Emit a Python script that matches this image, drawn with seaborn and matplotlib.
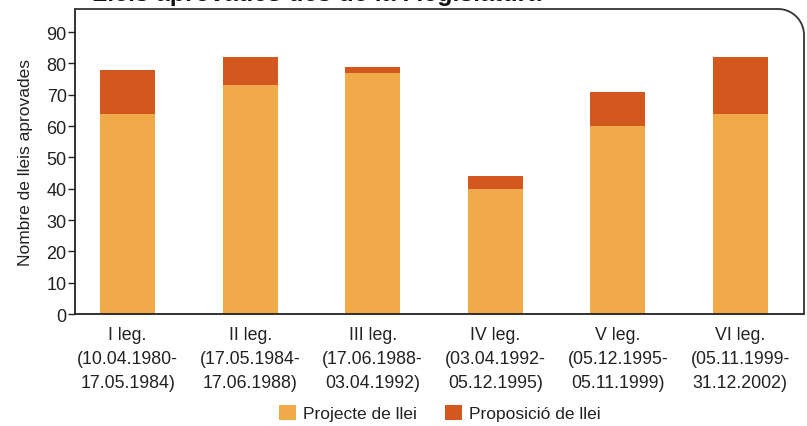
import numpy as np
import pandas as pd
import matplotlib
matplotlib.use("Agg")
import matplotlib.pyplot as plt
from matplotlib.patches import Patch
from matplotlib.lines import Line2D
import seaborn as sns

# Legislatures and number of laws approved by type
legislatures = [
    "I leg.\n(10.04.1980-\n17.05.1984)",
    "II leg.\n(17.05.1984-\n17.06.1988)",
    "III leg.\n(17.06.1988-\n03.04.1992)",
    "IV leg.\n(03.04.1992-\n05.12.1995)",
    "V leg.\n(05.12.1995-\n05.11.1999)",
    "VI leg.\n(05.11.1999-\n31.12.2002)",
]
projecte = [64, 73, 77, 40, 60, 64]
proposicio = [14, 9, 2, 4, 11, 18]
series_names = ["Projecte de llei", "Proposició de llei"]
y_ticks = [0, 10, 20, 30, 40, 50, 60, 70, 80, 90]
title = "Lleis aprovades des de la I legislatura"
y_label = "Nombre de lleis aprovades"

df = pd.DataFrame({
    "leg": legislatures,
    "projecte": projecte,
    "proposicio": proposicio,
})
df["total"] = df["projecte"] + df["proposicio"]

sns.set_theme(style="white")
plt.rcParams["font.family"] = ["Liberation Sans", "DejaVu Sans"]

W, H = 807, 427
fig = plt.figure(figsize=(W / 100, H / 100), dpi=100)
L, R, T, B = 75, 804, 10, 315
ax = fig.add_axes([L / W, 1 - B / H, (R - L) / W, (B - T) / H])

light = "#F1AA4A"
dark = "#D25820"

sns.barplot(data=df, x="leg", y="total", color=dark, width=0.45,
            saturation=1, ax=ax, edgecolor="none")
sns.barplot(data=df, x="leg", y="projecte", color=light, width=0.45,
            saturation=1, ax=ax, edgecolor="none")

ax.set_xlim(-0.43, 5.52)
ax.set_ylim(0, 97.4)
ax.set_yticks(y_ticks)
ax.set_yticklabels([str(v) for v in y_ticks], fontsize=13, color="#222222")
ax.tick_params(axis="y", which="major", left=True, length=5, width=1,
               color="#222222", pad=1)
ax.tick_params(axis="x", bottom=False, pad=3)
for lab in ax.get_xticklabels():
    lab.set_fontsize(12.8)
    lab.set_linespacing(1.5)
    lab.set_color("#222222")
ax.set_xlabel("")
ax.set_ylabel(y_label, fontsize=12.5, color="#222222", labelpad=10)

for side in ["top", "right"]:
    ax.spines[side].set_visible(False)
for side in ["left", "bottom"]:
    ax.spines[side].set_color("#222222")
    ax.spines[side].set_linewidth(1.3)

# Frame top and right edge with rounded top-right corner (pixel geometry)
r = 26
theta = np.linspace(np.pi / 2, 0, 30)
cx, cy = R - r, T + r
xs = np.concatenate([[L], cx + r * np.cos(theta), [R]])
ys = np.concatenate([[T], cy - r * np.sin(theta), [B]])
fig.add_artist(Line2D(xs / W, 1 - ys / H, transform=fig.transFigure,
                      color="#333333", linewidth=1.3, solid_capstyle="butt"))

# Title sitting at the top edge
fig.text(92 / W, 1 - 0.5 / H, title, fontsize=18, fontweight="bold",
         va="baseline", ha="left", color="#111111")

handles = [Patch(facecolor=light, edgecolor="none"),
           Patch(facecolor=dark, edgecolor="none")]
fig.legend(handles, series_names, loc="center", ncol=2,
           bbox_to_anchor=(440 / W, 1 - 414 / H), frameon=False,
           fontsize=12.5, handlelength=1.0, handleheight=1.0,
           handletextpad=0.4, columnspacing=1.6, labelcolor="#222222")

fig.savefig("out.png", dpi=100)
